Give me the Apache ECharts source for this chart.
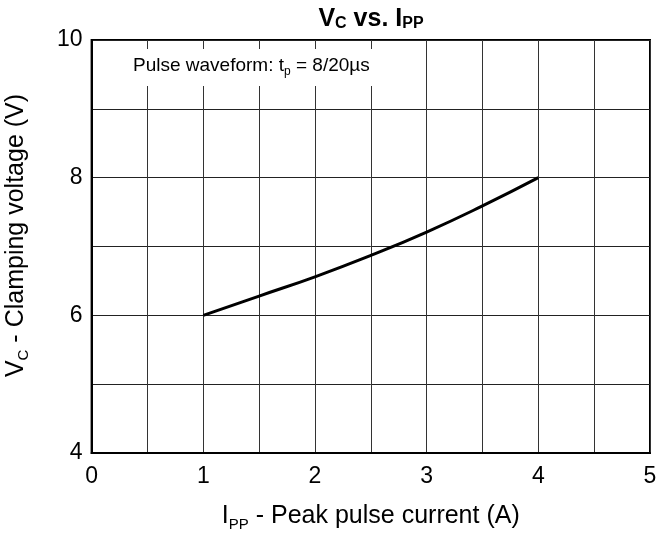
<!DOCTYPE html>
<html>
<head>
<meta charset="utf-8">
<script src="https://cdn.jsdelivr.net/npm/echarts@6/dist/echarts.min.js"></script>
<style>html,body{margin:0;padding:0;background:#fff}#c{width:659px;height:538px}</style>
</head>
<body>
<div id="c"></div>
<script>
var currentA = [1, 1.5, 2, 2.5, 3, 3.5, 4];
var clampV = [6.0, 6.28, 6.56, 6.87, 7.21, 7.59, 8.0];
var xTickLabels = ['0', '1', '2', '3', '4', '5'];
var yTickLabels = ['4', '6', '8', '10'];

var chart = echarts.init(document.getElementById('c'));
var F = 'Liberation Sans, Arial, sans-serif';
var subStyle = {fontFamily: F, fontSize: 15, color: '#000', padding: [16, 0, 0, 0]};
chart.setOption({
  animation: false,
  backgroundColor: '#fff',
  title: {
    text: 'V{s|C} vs. I{s|PP}',
    left: 366, textAlign: 'center', top: 2,
    textStyle: {
      fontFamily: F, fontSize: 25, fontWeight: 'bold', color: '#000',
      rich: {s: {fontFamily: F, fontSize: 16, fontWeight: 'bold', color: '#000', padding: [8, 0, 0, 0]}}
    }
  },
  grid: {left: 91.6, right: 9, top: 40, bottom: 85, outerBoundsMode: 'none', containLabel: false,
         show: true, borderColor: '#000', borderWidth: 2},
  xAxis: {
    type: 'value', min: 0, max: 5, interval: 0.5,
    axisLine: {show: true, lineStyle: {color: '#000', width: 2}},
    axisTick: {show: false},
    splitLine: {show: true, lineStyle: {color: '#333', width: 1}},
    axisLabel: {
      fontFamily: F, fontSize: 23, color: '#000', margin: 12,
      formatter: function (v) { return xTickLabels.indexOf(String(v)) >= 0 ? String(v) : ''; }
    },
    name: 'I{sub|PP} - Peak pulse current (A)',
    nameLocation: 'middle', nameGap: 48,
    nameTextStyle: {fontFamily: F, fontSize: 25, color: '#000', rich: {sub: subStyle}}
  },
  yAxis: {
    type: 'value', min: 4, max: 10, interval: 1,
    axisLine: {show: true, lineStyle: {color: '#000', width: 2}},
    axisTick: {show: false},
    splitLine: {show: true, lineStyle: {color: '#222', width: 1}},
    axisLabel: {
      fontFamily: F, fontSize: 23, color: '#000', margin: 9,
      formatter: function (v) { return yTickLabels.indexOf(String(v)) >= 0 ? String(v) : ''; }
    },
    name: 'V{sub|C} - Clamping voltage (V)',
    nameLocation: 'middle', nameGap: 60,
    nameTextStyle: {fontFamily: F, fontSize: 25, color: '#000', padding: [0, 0, 0, 22], rich: {sub: subStyle}}
  },
  graphic: [{
    type: 'text', left: 127, top: 49, z: 10,
    style: {
      text: 'Pulse waveform: t{p|p} = 8/20µs',
      font: '19px ' + F, fill: '#000',
      backgroundColor: '#fff', padding: [5, 6, 8, 6],
      rich: {p: {fontFamily: F, fontSize: 12, fill: '#000', padding: [12, 0, 0, 0]}}
    }
  }],
  series: [{
    type: 'line', smooth: true, showSymbol: false,
    data: currentA.map(function (x, i) { return [x, clampV[i]]; }),
    lineStyle: {color: '#000', width: 3}
  }]
});
</script>
</body>
</html>
